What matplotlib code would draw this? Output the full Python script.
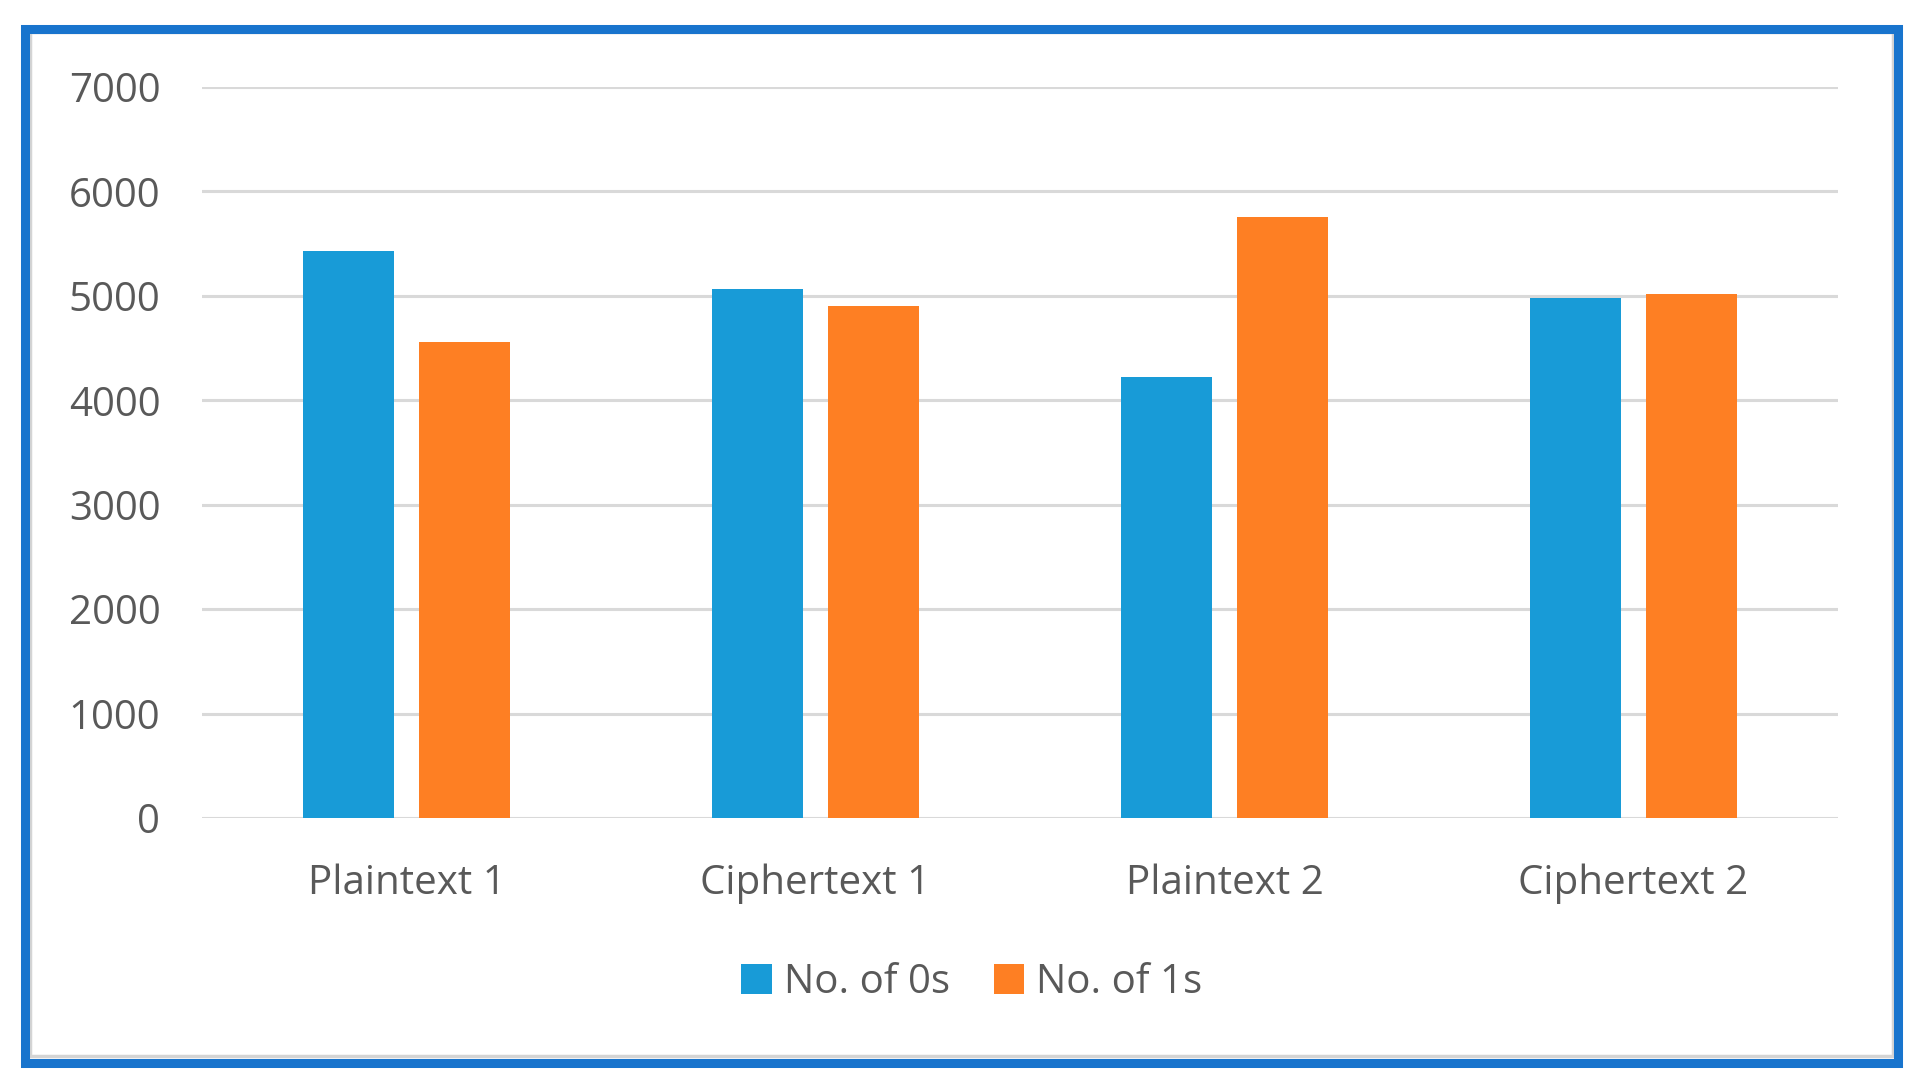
import matplotlib.pyplot as plt
from matplotlib.patches import Rectangle
import numpy as np

categories = ["Plaintext 1", "Ciphertext 1", "Plaintext 2", "Ciphertext 2"]
zeros = [5425, 5065, 4225, 4975]
ones = [4560, 4900, 5755, 5020]
series_names = ["No. of 0s", "No. of 1s"]
yticks = [0, 1000, 2000, 3000, 4000, 5000, 6000, 7000]

W, H = 1924, 1090
blue = "#189BD7"
orange = "#FE7F23"
text_gray = "#595959"

plt.rcParams['font.family'] = ['Open Sans', 'DejaVu Sans']

fig = plt.figure(figsize=(W / 100, H / 100), dpi=100)
ax = fig.add_axes([202 / W, 1 - 818 / H, (1838 - 202) / W, (818 - 87) / H])

x = np.arange(len(categories))
bw = 0.222
off = 0.1415
ax.bar(x - off, zeros, bw, color=blue, label=series_names[0], zorder=3)
ax.bar(x + off, ones, bw, color=orange, label=series_names[1], zorder=3)

ax.set_xlim(-0.5, len(categories) - 0.5)
ax.set_ylim(0, 7000)
ax.set_yticks(yticks)
ax.set_yticklabels([str(v) for v in yticks])
ax.set_xticks(x)
ax.set_xticklabels(categories)
ax.grid(axis='y', color='#D9D9D9', linewidth=2.2, zorder=0)
ax.tick_params(axis='both', length=0, labelsize=29, colors=text_gray)
ax.tick_params(axis='y', pad=30)
ax.tick_params(axis='x', pad=33)
for s in ax.spines.values():
    s.set_visible(False)

fig.legend(loc='center', bbox_to_anchor=(972 / W, 1 - 983 / H), ncol=2,
           frameon=False, fontsize=29, labelcolor=text_gray,
           handlelength=0.75, handleheight=0.75, handletextpad=0.3,
           columnspacing=1.1)

# outer frame: thin gray inner line plus thick blue border
fig.patches.append(Rectangle((30 / W, 1 - 1056 / H), (1893 - 30) / W, (1056 - 32) / H,
                             transform=fig.transFigure, fill=False,
                             edgecolor='#D4D4D4', linewidth=2.5))
fig.patches.append(Rectangle((24.5 / W, 1 - 1063 / H), (1898.5 - 24.5) / W, (1063 - 28.5) / H,
                             transform=fig.transFigure, fill=False,
                             edgecolor='#1874CD', linewidth=6.5))

fig.savefig("out.png", dpi=100)
